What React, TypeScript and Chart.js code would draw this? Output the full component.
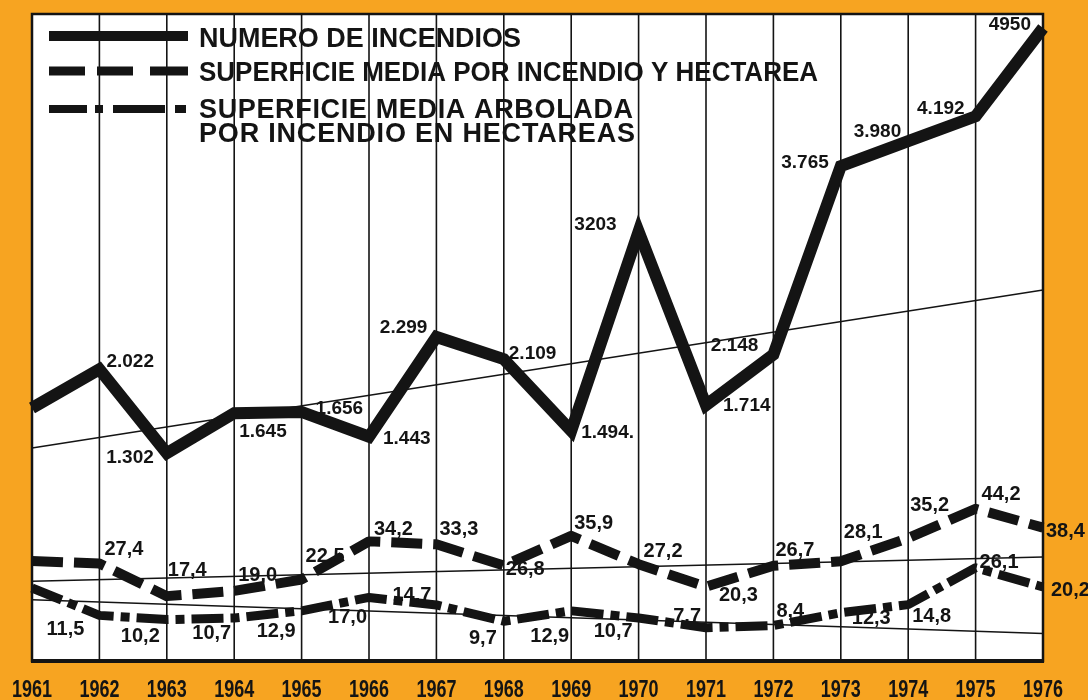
import React, { useEffect, useRef } from 'react';
import { Chart, registerables } from 'chart.js';

Chart.register(...registerables);

// ---------- data ----------
const YEARS = ['1961', '1962', '1963', '1964', '1965', '1966', '1967', '1968', '1969', '1970', '1971', '1972', '1973', '1974', '1975', '1976'];

const INCENDIOS = [1690, 2022, 1302, 1645, 1656, 1443, 2299, 2109, 1494, 3203, 1714, 2148, 3765, 3980, 4192, 4950];
const INCENDIOS_TEXT = ['', '2.022', '1.302', '1.645', '1.656', '1.443', '2.299', '2.109', '1.494.', '3203', '1.714', '2.148', '3.765', '3.980', '4.192', '4950'];

const SUPERFICIE = [28.2, 27.4, 17.4, 19.0, 22.5, 34.2, 33.3, 26.8, 35.9, 27.2, 20.3, 26.7, 28.1, 35.2, 44.2, 38.4];
const ARBOLADA = [19.9, 11.5, 10.2, 10.7, 12.9, 17.0, 14.7, 9.7, 12.9, 10.7, 7.7, 8.4, 12.3, 14.8, 26.1, 20.2];

// trend lines: values at first and last year
const TREND_INCENDIOS = [1346, 2702];
const TREND_SUPERFICIE = [22.0, 29.4];
const TREND_ARBOLADA = [16.3, 5.9];

const LEGEND_TEXT = [
  'NUMERO DE INCENDIOS',
  'SUPERFICIE MEDIA POR INCENDIO Y HECTAREA',
  'SUPERFICIE MEDIA ARBOLADA',
  'POR INCENDIO EN HECTAREAS',
];

// ---------- label placement (dx, dy, align) ----------
type Place = [number, number, CanvasTextAlign];
const INC_PLACE: Place[] = [
  [0, 0, 'left'], [7, -7, 'left'], [-13, 5, 'right'], [5, 19, 'left'], [14, -3, 'left'], [14, 2, 'left'],
  [-9, -9, 'right'], [5, -5, 'left'], [10, 2, 'left'], [-22, -7, 'right'], [17, 1, 'left'], [-15, -9, 'right'],
  [-12, -3, 'right'], [-7, -9, 'right'], [-11, -8, 'right'], [-12, -3, 'right'],
];
const SUP_PLACE: Place[] = [
  [0, 0, 'left'], [5, -14, 'left'], [1, -26, 'left'], [4, -15, 'left'], [4, -23, 'left'], [5, -12, 'left'],
  [3, -15, 'left'], [2, 4, 'left'], [3, -12, 'left'], [5, -13, 'left'], [13, 9, 'left'], [2, -15, 'left'],
  [3, -29, 'left'], [2, -33, 'left'], [6, -14, 'left'], [3, 4, 'left'],
];
const ARB_PLACE: Place[] = [
  [0, 0, 'left'], [-15, 14, 'right'], [-7, 17, 'right'], [-3, 16, 'right'], [-6, 21, 'right'], [-2, 20, 'right'],
  [-5, -9, 'right'], [-7, 17, 'right'], [-2, 26, 'right'], [-6, 14, 'right'], [-5, -11, 'right'], [3, -14, 'left'],
  [11, 6, 'left'], [4, 12, 'left'], [4, -5, 'left'], [8, 3, 'left'],
];

const ORANGE = '#F7A421';
const INK = '#141414';

function ends(pair: number[]): (number | null)[] {
  return YEARS.map((_, i) => (i === 0 ? pair[0] : i === YEARS.length - 1 ? pair[1] : null));
}

function fitText(ctx: CanvasRenderingContext2D, text: string, x: number, y: number, target: number) {
  const w = ctx.measureText(text).width;
  if (w > target) {
    ctx.fillText(text, x, y, target);
  } else {
    (ctx as any).letterSpacing = ((target - w) / Math.max(1, text.length - 1)).toFixed(2) + 'px';
    ctx.fillText(text, x, y);
    (ctx as any).letterSpacing = '0px';
  }
}

const decoPlugin = {
  id: 'deco',
  beforeDraw(chart: any) {
    const { ctx, chartArea: a, width, height } = chart;
    ctx.save();
    ctx.fillStyle = ORANGE;
    ctx.fillRect(0, 0, width, height);
    ctx.fillStyle = '#ffffff';
    ctx.fillRect(a.left, a.top, a.right - a.left, a.bottom - a.top);
    const xs = chart.scales.x;
    ctx.strokeStyle = INK;
    ctx.lineWidth = 1.6;
    YEARS.forEach((_, i) => {
      const x = xs.getPixelForValue(i);
      ctx.beginPath();
      ctx.moveTo(x, a.top);
      ctx.lineTo(x, a.bottom);
      ctx.stroke();
    });
    ctx.restore();
  },
  afterDatasetsDraw(chart: any) {
    const { ctx, chartArea: a } = chart;
    ctx.save();
    // frame
    ctx.strokeStyle = INK;
    ctx.lineWidth = 2.5;
    ctx.strokeRect(a.left, a.top, a.right - a.left, a.bottom - a.top);
    ctx.lineWidth = 4;
    ctx.beginPath();
    ctx.moveTo(a.left - 1, a.bottom);
    ctx.lineTo(a.right + 1, a.bottom);
    ctx.stroke();

    // value labels
    ctx.fillStyle = INK;
    ctx.textBaseline = 'middle';
    const drawLabels = (metaIdx: number, texts: string[], place: Place[], font: string) => {
      const meta = chart.getDatasetMeta(metaIdx);
      ctx.font = font;
      meta.data.forEach((pt: any, i: number) => {
        const t = texts[i];
        if (!t) return;
        const [dx, dy, al] = place[i];
        ctx.textAlign = al;
        ctx.fillText(t, pt.x + dx, pt.y + dy);
      });
    };
    drawLabels(0, INCENDIOS_TEXT, INC_PLACE, "bold 19px 'Liberation Sans'");
    const fmt = (v: number) => v.toFixed(1).replace('.', ',');
    drawLabels(2, SUPERFICIE.map((v, i) => (i === 0 ? '' : fmt(v))), SUP_PLACE, "bold 20px 'Liberation Sans'");
    drawLabels(4, ARBOLADA.map((v, i) => (i === 0 ? '' : fmt(v))), ARB_PLACE, "bold 20px 'Liberation Sans'");

    // legend samples
    ctx.strokeStyle = INK;
    ctx.lineCap = 'butt';
    ctx.lineWidth = 10;
    ctx.beginPath();
    ctx.moveTo(49, 36);
    ctx.lineTo(188, 36);
    ctx.stroke();
    ctx.lineWidth = 9;
    [[49, 85], [97, 133], [150, 188]].forEach(([x0, x1]) => {
      ctx.beginPath();
      ctx.moveTo(x0, 71);
      ctx.lineTo(x1, 71);
      ctx.stroke();
    });
    ctx.lineWidth = 8;
    [[49, 87], [95, 103], [113, 165], [175, 186]].forEach(([x0, x1]) => {
      ctx.beginPath();
      ctx.moveTo(x0, 109);
      ctx.lineTo(x1, 109);
      ctx.stroke();
    });

    // legend text
    ctx.textAlign = 'left';
    ctx.textBaseline = 'alphabetic';
    ctx.font = "bold 27px 'Liberation Sans'";
    const lx = 199;
    fitText(ctx, LEGEND_TEXT[0], lx, 47, 322);
    fitText(ctx, LEGEND_TEXT[1], lx, 81, 619);
    fitText(ctx, LEGEND_TEXT[2], lx, 118, 434);
    fitText(ctx, LEGEND_TEXT[3], lx, 142, 436);

    // year labels
    const xs = chart.scales.x;
    ctx.font = "bold 23px 'Liberation Sans'";
    ctx.textAlign = 'center';
    YEARS.forEach((y, i) => {
      ctx.fillText(y, xs.getPixelForValue(i), 697, 40);
    });
    ctx.restore();
  },
};

export default function App() {
  const ref = useRef<HTMLCanvasElement | null>(null);

  useEffect(() => {
    document.body.style.margin = '0';
    document.body.style.background = ORANGE;
    const canvas = ref.current;
    if (!canvas) return;
    const chart = new Chart(canvas, {
      type: 'line',
      data: {
        labels: YEARS,
        datasets: [
          {
            label: 'NUMERO DE INCENDIOS',
            data: INCENDIOS,
            yAxisID: 'y',
            borderColor: INK,
            borderWidth: 12,
            borderJoinStyle: 'miter',
            pointRadius: 0,
            tension: 0,
          },
          {
            label: 'tendencia incendios',
            data: ends(TREND_INCENDIOS),
            yAxisID: 'y',
            borderColor: INK,
            borderWidth: 1.5,
            pointRadius: 0,
            spanGaps: true,
          },
          {
            label: 'SUPERFICIE MEDIA POR INCENDIO Y HECTAREA',
            data: SUPERFICIE,
            yAxisID: 'y2',
            borderColor: INK,
            borderWidth: 10,
            borderDash: [31, 11],
            borderCapStyle: 'butt',
            borderJoinStyle: 'round',
            pointRadius: 0,
          },
          {
            label: 'tendencia superficie',
            data: ends(TREND_SUPERFICIE),
            yAxisID: 'y2',
            borderColor: INK,
            borderWidth: 1.5,
            pointRadius: 0,
            spanGaps: true,
          },
          {
            label: 'SUPERFICIE MEDIA ARBOLADA POR INCENDIO EN HECTAREAS',
            data: ARBOLADA,
            yAxisID: 'y2',
            borderColor: INK,
            borderWidth: 9,
            borderDash: [32, 7, 9, 7],
            borderCapStyle: 'butt',
            borderJoinStyle: 'round',
            pointRadius: 0,
          },
          {
            label: 'tendencia arbolada',
            data: ends(TREND_ARBOLADA),
            yAxisID: 'y2',
            borderColor: INK,
            borderWidth: 1.5,
            pointRadius: 0,
            spanGaps: true,
          },
        ],
      },
      options: {
        responsive: false,
        devicePixelRatio: 1,
        animation: false,
        layout: { padding: { left: 32, right: 45, top: 14, bottom: 39 } },
        scales: {
          x: { type: 'category', display: false, offset: false },
          y: { type: 'linear', display: false, min: -481, max: 5070 },
          y2: { type: 'linear', display: false, min: -2.5, max: 196 },
        },
        plugins: {
          legend: { display: false },
          tooltip: { enabled: false },
        },
      },
      plugins: [decoPlugin],
    });
    return () => chart.destroy();
  }, []);

  return (
    <div style={{ width: 1088, height: 700, position: 'relative', background: ORANGE }}>
      <canvas ref={ref} width={1088} height={700} style={{ display: 'block' }} />
    </div>
  );
}
